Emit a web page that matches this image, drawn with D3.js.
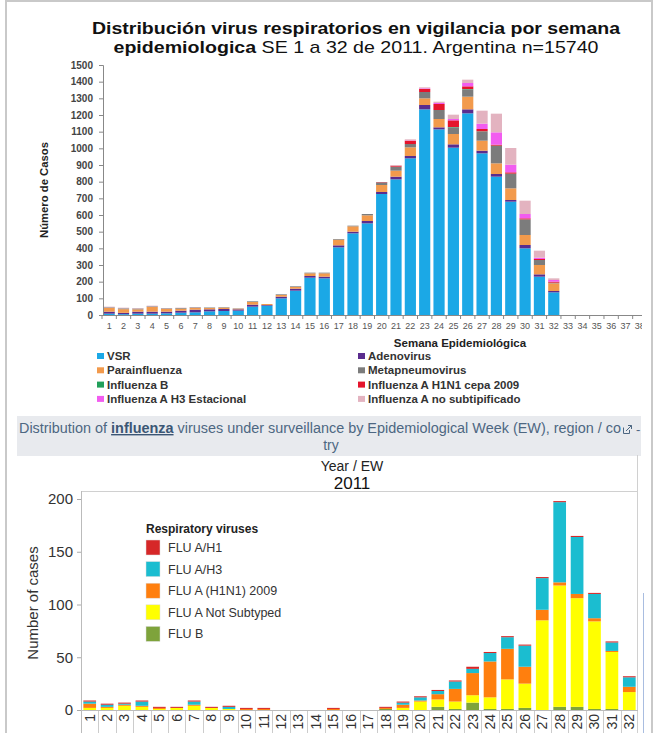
<!DOCTYPE html>
<html><head><meta charset="utf-8">
<script src="https://cdn.jsdelivr.net/npm/d3@7"></script>
<style>
body{margin:0;background:#fff}
svg{display:block;font-family:"Liberation Sans",Arial,sans-serif}
</style>
</head><body>
<svg id="c" width="658" height="733"></svg>
<script>
// ---------- Top chart data (Argentina, SE 1-32 2011) ----------
const semanas = [1,2,3,4,5,6,7,8,9,10,11,12,13,14,15,16,17,18,19,20,21,22,23,24,25,26,27,28,29,30,31,32,33,34,35,36,37,38];
const semanasDatos = [1,2,3,4,5,6,7,8,9,10,11,12,13,14,15,16,17,18,19,20,21,22,23,24,25,26,27,28,29,30,31,32];
const yTicksTop = [0,100,200,300,400,500,600,700,800,900,1000,1100,1200,1300,1400,1500];
const vsr      = [8,5,8,8,10,14,16,22,24,26,50,56,100,146,224,220,406,490,550,726,814,940,1234,1114,1004,1210,970,830,680,400,230,136];
const adeno    = [12,8,12,12,10,12,16,12,12,8,12,4,10,12,10,10,12,10,14,12,16,14,26,12,20,24,16,16,10,20,14,8];
const parainf  = [22,22,14,28,16,12,10,8,8,4,16,6,10,10,16,20,34,32,34,42,36,52,40,50,62,76,60,64,70,60,56,46];
const metapneu = [4,5,5,4,4,4,4,3,3,2,4,0,4,4,4,4,4,4,8,16,24,20,38,54,40,44,54,104,86,94,30,4];
const infB     = [0,0,0,0,0,0,0,0,0,0,0,0,0,0,0,0,0,0,0,0,0,0,0,0,2,2,2,2,2,0,0,0];
const h1n1_09  = [0,0,0,0,0,0,0,0,0,0,0,0,0,0,0,0,0,0,0,2,6,20,18,36,40,16,14,6,8,6,6,6];
const h3Est    = [0,0,0,0,0,0,0,0,0,0,0,0,0,0,0,0,0,0,0,0,0,2,4,6,8,20,32,74,46,26,8,10];
const noSubtip = [4,4,3,4,2,2,2,0,0,0,0,0,0,0,0,0,0,0,0,0,4,6,6,8,26,20,78,112,100,80,42,10];
const seriesTop = ["VSR","Adenovirus","Parainfluenza","Metapneumovirus","Influenza B","Influenza A H1N1 cepa 2009","Influenza A H3 Estacional","Influenza A no subtipificado"];
const colorsTop = ["#1ba8e6","#5a2c8e","#f29a4c","#7c7c7c","#22a05a","#e5142c","#f25cf0","#e3b3c0"];

// ---------- Bottom chart data (influenza, EW 1-32 2011) ----------
const ew = [1,2,3,4,5,6,7,8,9,10,11,12,13,14,15,16,17,18,19,20,21,22,23,24,25,26,27,28,29,30,31,32];
const yTicksBot = [0,50,100,150,200];
const fluB      = [0,0,0,0,0,0,0,0,0,0,0,0,0,0,0,0,0,1,0,0,3,1,7,1,1,2,0,3,3,1,1,0];
const fluNotSub = [2,2,4,3,1,2,4,2,1,0,0,0,0,0,0,0,0,0,2,8,7,7,7,11,28,23,85,115,103,83,54,17];
const fluH1N1   = [4,1,1,1,1,0,1,0,0,1,1,0,0,0,1,0,0,1,3,1,5,12,21,34,29,16,10,3,4,3,1,5];
const fluH3     = [2,2,1,4,0,0,3,0,2,0,0,0,0,0,0,0,0,0,2,3,3,7,4,8,11,20,30,76,54,23,8,9];
const fluH1     = [1,1,1,1,1,1,1,1,1,1,1,0,0,0,1,0,0,1,1,1,1,1,2,1,1,1,1,1,1,1,1,1];
const seriesBot = ["FLU B","FLU A Not Subtyped","FLU A (H1N1) 2009","FLU A/H3","FLU A/H1"];
const colorsBot = ["#7ea33b","#ffff00","#ff7f0e","#1bbdd0","#d62728"];
const legendBotOrder = ["FLU A/H1","FLU A/H3","FLU A (H1N1) 2009","FLU A Not Subtyped","FLU B"];

const svg = d3.select("#c");

// outer frame
svg.append("rect").attr("x",6).attr("y",1).attr("width",646).attr("height",740)
  .attr("fill","none").attr("stroke","#c9c9c9").attr("stroke-width",2);

// ================= TOP CHART =================
const topG = svg.append("g");
svg.append("defs").append("clipPath").attr("id","clipTop")
  .append("rect").attr("x",0).attr("y",0).attr("width",642).attr("height",410);
topG.attr("clip-path","url(#clipTop)");

topG.append("text").attr("x",356).attr("y",34).attr("text-anchor","middle")
  .attr("font-size",17).attr("font-weight","bold").attr("fill","#111")
  .attr("textLength",528).attr("lengthAdjust","spacingAndGlyphs")
  .text("Distribución virus respiratorios en vigilancia por semana");
const t2 = topG.append("text").attr("x",356).attr("y",53).attr("text-anchor","middle")
  .attr("font-size",17).attr("fill","#111")
  .attr("textLength",485).attr("lengthAdjust","spacingAndGlyphs");
t2.append("tspan").attr("font-weight","bold").text("epidemiologica");
t2.append("tspan").text(" SE 1 a 32 de 2011. Argentina n=15740");

const xTop = d3.scaleBand().domain(semanas).range([102,647]).paddingInner(0.22).paddingOuter(0.11);
const yTop = d3.scaleLinear().domain([0,1500]).range([315,65]);

const rowsTop = semanasDatos.map((s,i)=>({
  semana:s, "VSR":vsr[i], "Adenovirus":adeno[i], "Parainfluenza":parainf[i], "Metapneumovirus":metapneu[i],
  "Influenza B":infB[i], "Influenza A H1N1 cepa 2009":h1n1_09[i], "Influenza A H3 Estacional":h3Est[i],
  "Influenza A no subtipificado":noSubtip[i]}));
const stackTop = d3.stack().keys(seriesTop)(rowsTop);
const cTop = d3.scaleOrdinal().domain(seriesTop).range(colorsTop);

topG.append("g").selectAll("g").data(stackTop).join("g").attr("fill",d=>cTop(d.key))
  .selectAll("rect").data(d=>d).join("rect")
  .attr("x",d=>xTop(d.data.semana)).attr("width",xTop.bandwidth())
  .attr("y",d=>yTop(d[1])).attr("height",d=>Math.max(0,yTop(d[0])-yTop(d[1])));

// y axis
const yAxT = topG.append("g").attr("transform","translate(103,0)")
  .call(d3.axisLeft(yTop).tickValues(yTicksTop).tickFormat(d3.format("d")).tickSize(4).tickPadding(6));
yAxT.select(".domain").attr("stroke","#888");
yAxT.selectAll(".tick line").attr("stroke","#888");
yAxT.selectAll("text").attr("font-size",10).attr("font-weight","bold").attr("fill","#444")
  .attr("font-family","Liberation Sans, Arial, sans-serif");

// x axis
const xAxT = topG.append("g").attr("transform","translate(0,315)")
  .call(d3.axisBottom(xTop).tickSize(0).tickPadding(8));
xAxT.select(".domain").attr("stroke","#888");
xAxT.selectAll("text").attr("font-size",9).attr("fill","#555")
  .attr("font-family","Liberation Sans, Arial, sans-serif");
topG.append("g").selectAll("line").data(semanas).join("line")
  .attr("x1",d=>xTop(d)-xTop.step()*xTop.paddingInner()/2).attr("x2",d=>xTop(d)-xTop.step()*xTop.paddingInner()/2)
  .attr("y1",315).attr("y2",319).attr("stroke","#888");

topG.append("text").attr("transform","translate(48,190) rotate(-90)").attr("text-anchor","middle")
  .attr("font-size",11).attr("font-weight","bold").attr("fill","#222")
  .attr("textLength",96).attr("lengthAdjust","spacingAndGlyphs").text("Número de Casos");
topG.append("text").attr("x",460).attr("y",347).attr("text-anchor","middle")
  .attr("font-size",11.5).attr("font-weight","bold").attr("fill","#222").text("Semana Epidemiológica");

// legend top (row-major, 2 columns)
const legTop = topG.append("g");
seriesTop.forEach((s,i)=>{
  const col = i%2, row = Math.floor(i/2);
  const lx = col===0 ? 97 : 358, ly = 360 + row*14.3;
  legTop.append("rect").attr("x",lx).attr("y",ly-7).attr("width",7).attr("height",6).attr("fill",cTop(s));
  legTop.append("text").attr("x",lx+10).attr("y",ly).attr("font-size",11.5).attr("font-weight","bold")
    .attr("fill","#333").text(s);
});

// ================= BOTTOM PANEL =================
svg.append("rect").attr("x",17).attr("y",416).attr("width",624).attr("height",40).attr("fill","#e8eaee");
const hd = svg.append("text").attr("x",19).attr("y",433).attr("font-size",14).attr("fill","#4d6782")
  .attr("textLength",602).attr("lengthAdjust","spacingAndGlyphs");
hd.append("tspan").text("Distribution of ");
hd.append("tspan").attr("font-weight","bold").attr("text-decoration","underline").attr("fill","#3b5675").text("influenza");
hd.append("tspan").text(" viruses under surveillance by Epidemiological Week (EW), region / co");
// external-link icon
const ic = svg.append("g").attr("transform","translate(623,425)").attr("stroke","#4d6782").attr("fill","none").attr("stroke-width",1);
ic.append("path").attr("d","M0.5,2.5 V8.5 H6.5 V5");
ic.append("path").attr("d","M3,6 L8.5,0.5 M5,0.5 H8.5 V4");
svg.append("text").attr("x",636).attr("y",434).attr("font-size",13).attr("fill","#4d6782").text("-");
svg.append("text").attr("x",331).attr("y",450).attr("text-anchor","middle").attr("font-size",14)
  .attr("fill","#4d6782").text("try");

svg.append("text").attr("x",352).attr("y",471).attr("text-anchor","middle").attr("font-size",14).attr("fill","#222").text("Year  /  EW");
svg.append("text").attr("x",352).attr("y",489).attr("text-anchor","middle").attr("font-size",17).attr("fill","#111").text("2011");

const xBot = d3.scaleBand().domain(ew).range([81,638]).paddingInner(0.27).paddingOuter(0.135);
const yBot = d3.scaleLinear().domain([0,200]).range([710,499]);

// frame lines
svg.append("line").attr("x1",81).attr("x2",638).attr("y1",491.5).attr("y2",491.5).attr("stroke","#d0d0d0");
svg.append("line").attr("x1",637.5).attr("x2",637.5).attr("y1",455).attr("y2",733).attr("stroke","#d0d0d0");
svg.append("line").attr("x1",81.5).attr("x2",81.5).attr("y1",491).attr("y2",733).attr("stroke","#bbb");
svg.append("line").attr("x1",643.5).attr("x2",643.5).attr("y1",593).attr("y2",733).attr("stroke","#a9bde0");

const rowsBot = ew.map((w,i)=>({ew:w,"FLU B":fluB[i],"FLU A Not Subtyped":fluNotSub[i],
  "FLU A (H1N1) 2009":fluH1N1[i],"FLU A/H3":fluH3[i],"FLU A/H1":fluH1[i]}));
const stackBot = d3.stack().keys(seriesBot)(rowsBot);
const cBot = d3.scaleOrdinal().domain(seriesBot).range(colorsBot);

svg.append("g").selectAll("g").data(stackBot).join("g").attr("fill",d=>cBot(d.key))
  .selectAll("rect").data(d=>d).join("rect")
  .attr("x",d=>xBot(d.data.ew)).attr("width",xBot.bandwidth())
  .attr("y",d=>yBot(d[1])).attr("height",d=>Math.max(0,yBot(d[0])-yBot(d[1])));

// y axis bottom
const yAxB = svg.append("g").attr("transform","translate(81,0)")
  .call(d3.axisLeft(yBot).tickValues(yTicksBot).tickSize(4).tickPadding(4));
yAxB.select(".domain").remove();
yAxB.selectAll(".tick line").attr("stroke","#aaa");
yAxB.selectAll("text").attr("font-size",15).attr("fill","#333")
  .attr("font-family","Liberation Sans, Arial, sans-serif");

svg.append("line").attr("x1",81).attr("x2",638).attr("y1",710.5).attr("y2",710.5).attr("stroke","#bbb");

// x labels (rotated)
const xAxB = svg.append("g").attr("transform","translate(0,710)")
  .call(d3.axisBottom(xBot).tickSize(0).tickPadding(0));
xAxB.select(".domain").remove();
xAxB.selectAll("text").attr("font-size",14).attr("fill","#333")
  .attr("font-family","Liberation Sans, Arial, sans-serif")
  .attr("transform","translate(0,4) rotate(-90)").attr("text-anchor","end").attr("dy","0.35em").attr("y",0).attr("x",0);
svg.append("g").selectAll("line").data(ew.slice(1)).join("line")
  .attr("x1",d=>Math.round(xBot(d)-xBot.step()*xBot.paddingInner()/2)+0.5)
  .attr("x2",d=>Math.round(xBot(d)-xBot.step()*xBot.paddingInner()/2)+0.5)
  .attr("y1",711).attr("y2",733).attr("stroke","#ccc");

svg.append("text").attr("transform","translate(38,603) rotate(-90)").attr("text-anchor","middle")
  .attr("font-size",15).attr("fill","#333").text("Number of cases");

// legend bottom
const legB = svg.append("g");
legB.append("text").attr("x",146).attr("y",533).attr("font-size",12).attr("font-weight","bold").attr("fill","#222").text("Respiratory viruses");
legendBotOrder.forEach((s,i)=>{
  const ly = 540 + i*21.6;
  legB.append("rect").attr("x",146).attr("y",ly).attr("width",14).attr("height",15)
    .attr("fill",cBot(s)).attr("stroke","#ddd").attr("stroke-width",0.5);
  legB.append("text").attr("x",168).attr("y",ly+12).attr("font-size",12.5).attr("fill","#333").text(s);
});
</script>
</body></html>
